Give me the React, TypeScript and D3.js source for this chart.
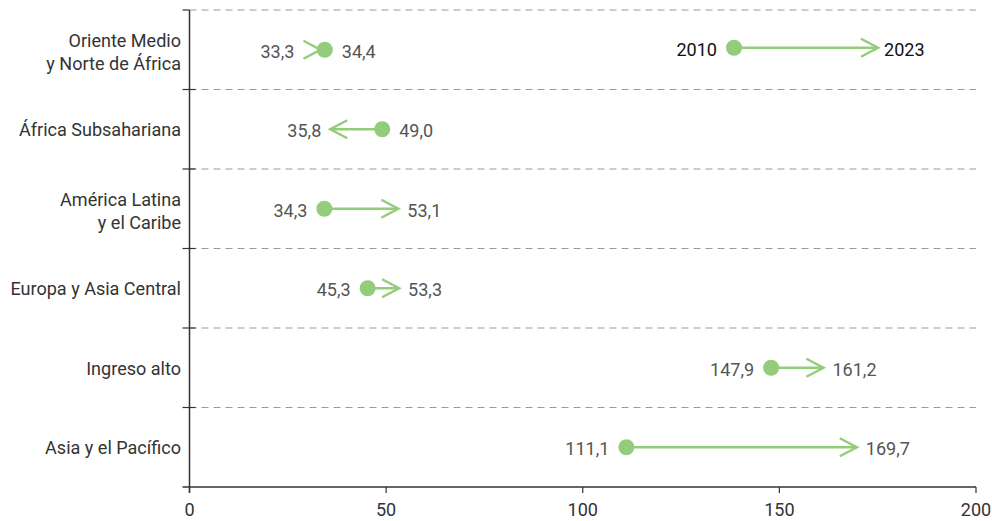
import React from "react";
import * as d3 from "d3";

const categories: string[][] = [
  ["Oriente Medio", "y Norte de África"],
  ["África Subsahariana"],
  ["América Latina", "y el Caribe"],
  ["Europa y Asia Central"],
  ["Ingreso alto"],
  ["Asia y el Pacífico"],
];
const values2010: number[] = [34.4, 49.0, 34.3, 45.3, 147.9, 111.1];
const values2023: number[] = [33.3, 35.8, 53.1, 53.3, 161.2, 169.7];
const xTicks: number[] = [0, 50, 100, 150, 200];
const legendYears: string[] = ["2010", "2023"];

const W = 992;
const H = 521;
const FONT = "Roboto, 'Open Sans', sans-serif";
const GREEN = "#93cc7a";
const FS = 19;
const SX = 0.95;

const fmt = (v: number) => v.toFixed(1).replace(".", ",");

function T(props: { x: number; y: number; anchor?: string; fill?: string; dy?: string; children: React.ReactNode }) {
  const { x, y, anchor = "start", fill = "#333", dy = "0.36em", children } = props;
  return (
    <text transform={`translate(${x},${y}) scale(${SX},1)`} x={0} y={0} dy={dy}
      textAnchor={anchor} fontSize={FS} fill={fill}>{children}</text>
  );
}

export default function App() {
  const left = 189.5;
  const right = 976;
  const top = 10;
  const bottom = 487;
  const x = d3.scaleLinear().domain([0, 200]).range([left, right]);
  const idx = categories.map((_, i) => String(i));
  const y = d3.scaleBand().domain(idx).range([top, bottom]);
  const bw = y.bandwidth();
  const r = 8;
  const headL = 17;
  const headW = 9;
  const gap = 9;

  const arrowHead = (tipX: number, cy: number, dir: number) => {
    const bx = tipX - dir * headL;
    return `M${bx},${cy - headW}L${tipX},${cy}L${bx},${cy + headW}`;
  };

  const boundaries = d3.range(categories.length + 1).map((i) => top + i * bw);

  const legY = y("0")! + bw / 2 - 2;
  const legX1 = 734;
  const legX2 = 878;

  return (
    <svg width={W} height={H} style={{ position: "absolute", left: 0, top: 0, background: "#fff" }}
      fontFamily={FONT}>
      {boundaries.slice(0, -1).map((b, i) => (
        <line key={"d" + i} x1={left} x2={right} y1={b} y2={b} stroke="#9a9a9a"
          strokeWidth={1} strokeDasharray="7,5" />
      ))}
      <line x1={left} x2={left} y1={top} y2={bottom + 6} stroke="#333" strokeWidth={1.5} />
      {boundaries.slice(0, -1).map((b, i) => (
        <line key={"yt" + i} x1={left - 7} x2={i === 0 ? left : left + 6} y1={b} y2={b}
          stroke="#333" strokeWidth={1.2} />
      ))}
      <line x1={left - 7} x2={right} y1={bottom} y2={bottom} stroke="#333" strokeWidth={1.5} />
      {xTicks.map((t) => (
        <g key={"xt" + t}>
          <line x1={x(t)} x2={x(t)} y1={bottom} y2={bottom + 6} stroke="#333" strokeWidth={1.2} />
          <T x={x(t)} y={bottom + 22} anchor="middle" fill="#333">{t}</T>
        </g>
      ))}
      {categories.map((lines, i) => {
        const cy = y(String(i))! + bw / 2;
        const lh = 23;
        const start = cy - ((lines.length - 1) * lh) / 2 + (lines.length > 1 ? 2 : 0);
        return (
          <g key={"c" + i}>
            {lines.map((l, j) => (
              <T key={j} x={181} y={start + j * lh} anchor="end" fill="#333">{l}</T>
            ))}
          </g>
        );
      })}
      {categories.map((_, i) => {
        const cy = y(String(i))! + bw / 2;
        const x1 = x(values2010[i]);
        const x2 = x(values2023[i]);
        let dir = x2 >= x1 ? 1 : -1;
        const len = Math.abs(x2 - x1);
        if (len < headL) dir = -dir;
        const headBack = x2 - dir * headL;
        const minX = Math.min(x1 - r, x2, headBack);
        const maxX = Math.max(x1 + r, x2, headBack);
        const lo = Math.min(values2010[i], values2023[i]);
        const hi = Math.max(values2010[i], values2023[i]);
        return (
          <g key={"m" + i}>
            <line x1={x1} x2={x2} y1={cy} y2={cy} stroke={GREEN} strokeWidth={2.5} />
            <path d={arrowHead(x2, cy, dir)} fill="none" stroke={GREEN} strokeWidth={2.5} />
            <circle cx={x1} cy={cy} r={r} fill={GREEN} />
            <T x={minX - gap} y={cy + 1} anchor="end" fill="#555">{fmt(lo)}</T>
            <T x={maxX + gap} y={cy + 1} anchor="start" fill="#555">{fmt(hi)}</T>
          </g>
        );
      })}
      <g>
        <line x1={legX1} x2={legX2} y1={legY} y2={legY} stroke={GREEN} strokeWidth={2.5} />
        <path d={arrowHead(legX2, legY, 1)} fill="none" stroke={GREEN} strokeWidth={2.5} />
        <circle cx={legX1} cy={legY} r={r} fill={GREEN} />
        <T x={legX1 - r - gap} y={legY + 1} anchor="end" fill="#111">{legendYears[0]}</T>
        <T x={legX2 + 6} y={legY + 1} anchor="start" fill="#111">{legendYears[1]}</T>
      </g>
    </svg>
  );
}
